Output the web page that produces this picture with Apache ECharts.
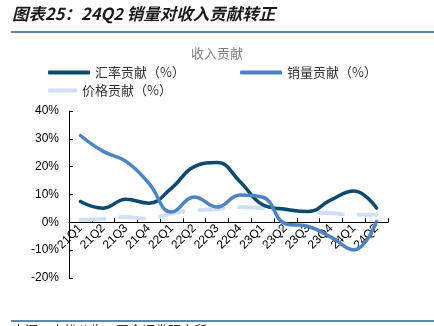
<!DOCTYPE html>
<html><head><meta charset="utf-8">
<script src="https://cdn.jsdelivr.net/npm/echarts@6/dist/echarts.min.js"></script>
<style>html,body{margin:0;padding:0;background:#fff}#c{width:434px;height:326px}</style>
</head><body><div id="c"></div>
<script>
var categories = ['21Q1','21Q2','21Q3','21Q4','22Q1','22Q2','22Q3','22Q4','23Q1','23Q2','23Q3','23Q4','24Q1','24Q2'];
var fxContribution = [7.5, 5.1, 8.3, 6.9, 12.3, 20.0, 21.5, 14.7, 6.3, 4.7, 3.9, 8.1, 11.3, 5.1];
var volumeContribution = [31.2, 25.5, 21.9, 14.1, 3.7, 9.1, 5.5, 9.8, 9.0, -0.5, -1.5, -5.3, -9.9, 0.3];
var priceContribution = [0.9, 1.2, 1.9, 1.3, 3.2, 4.3, 4.7, 5.5, 5.1, 4.5, 3.7, 3.3, 2.7, 2.7];
var seriesNames = ['汇率贡献（%）', '销量贡献（%）', '价格贡献（%）'];
var yTicks = [-20, -10, 0, 10, 20, 30, 40];

var colors = ['#0b4a70', '#4a84c4', '#cfe0f2'];
var gridTop = 111, gridBottom = 48, H = 326;
var plotH = H - gridTop - gridBottom;
var yMin = yTicks[0], yMax = yTicks[yTicks.length - 1];
var zeroOffset = -plotH * (0 - yMin) / (yMax - yMin);

var chart = echarts.init(document.getElementById('c'), null, {renderer: 'canvas'});
var cjk = '"Noto Sans CJK SC", sans-serif';
var latin = '"Liberation Sans", Arial, sans-serif';
function legendFor(name, left, top, w, color) {
  return {
    data: [name], left: left, top: top, orient: 'horizontal',
    itemWidth: w, itemHeight: 4, itemGap: 5, icon: 'roundRect',
    itemStyle: {color: color},
    textStyle: {fontFamily: cjk, fontSize: 13, color: '#333'},
    selectedMode: false, padding: 0
  };
}
chart.setOption({
  animation: false,
  color: colors,
  title: {text: '收入贡献', left: 'center', top: 47, padding: 0,
    textStyle: {fontFamily: cjk, fontSize: 13, fontWeight: 'normal', color: '#808080'}},
  legend: [
    legendFor(seriesNames[0], 48, 66, 42, colors[0]),
    legendFor(seriesNames[1], 240, 66, 42, colors[1]),
    legendFor(seriesNames[2], 48, 84, 29, colors[2])
  ],
  grid: {left: 69, right: 46, top: gridTop, bottom: gridBottom, containLabel: false},
  xAxis: {
    type: 'category', data: categories, boundaryGap: true, position: 'bottom',
    offset: zeroOffset,
    axisLine: {onZero: false, lineStyle: {color: '#000', width: 1}},
    axisTick: {show: true, inside: true, length: 4, lineStyle: {color: '#000'}},
    axisLabel: {rotate: 45, margin: 4, interval: 0, fontFamily: latin, fontSize: 12, color: '#000'}
  },
  yAxis: {
    type: 'value', min: yMin, max: yMax, interval: 10,
    axisLine: {show: true, lineStyle: {color: '#000', width: 1}},
    axisTick: {show: true, inside: true, length: 4, lineStyle: {color: '#000'}},
    splitLine: {show: false},
    axisLabel: {formatter: '{value}%', margin: 10, fontFamily: latin, fontSize: 12, color: '#000'}
  },
  series: [
    {name: seriesNames[0], type: 'line', data: fxContribution, smooth: 0.45, symbol: 'none',
      lineStyle: {width: 3.5, color: colors[0], cap: 'round'}, z: 3},
    {name: seriesNames[1], type: 'line', data: volumeContribution, smooth: 0.45, symbol: 'none',
      lineStyle: {width: 3.5, color: colors[1], cap: 'round'}, z: 4},
    {name: seriesNames[2], type: 'line', data: priceContribution, smooth: 0.45, symbol: 'none',
      lineStyle: {width: 4, color: colors[2], type: [24, 16], cap: 'round'}, z: 2}
  ],
  graphic: [
    {type: 'text', left: 12, top: 5, style: {text: '图表25：24Q2 销量对收入贡献转正',
      font: 'italic bold 16.5px "Noto Sans CJK SC", sans-serif', fill: '#1a1a1a'}},
    {type: 'line', shape: {x1: 11, y1: 32, x2: 434, y2: 32}, style: {stroke: '#2a5f8f', lineWidth: 1.5}},
    {type: 'line', shape: {x1: 11, y1: 321, x2: 434, y2: 321}, style: {stroke: '#2a5f8f', lineWidth: 1.5}},
    {type: 'text', left: 12, top: 324, style: {text: '来源：小松公告，国金证券研究所',
      font: '13px "Noto Sans CJK SC", sans-serif', fill: '#333'}}
  ]
});
</script></body></html>
